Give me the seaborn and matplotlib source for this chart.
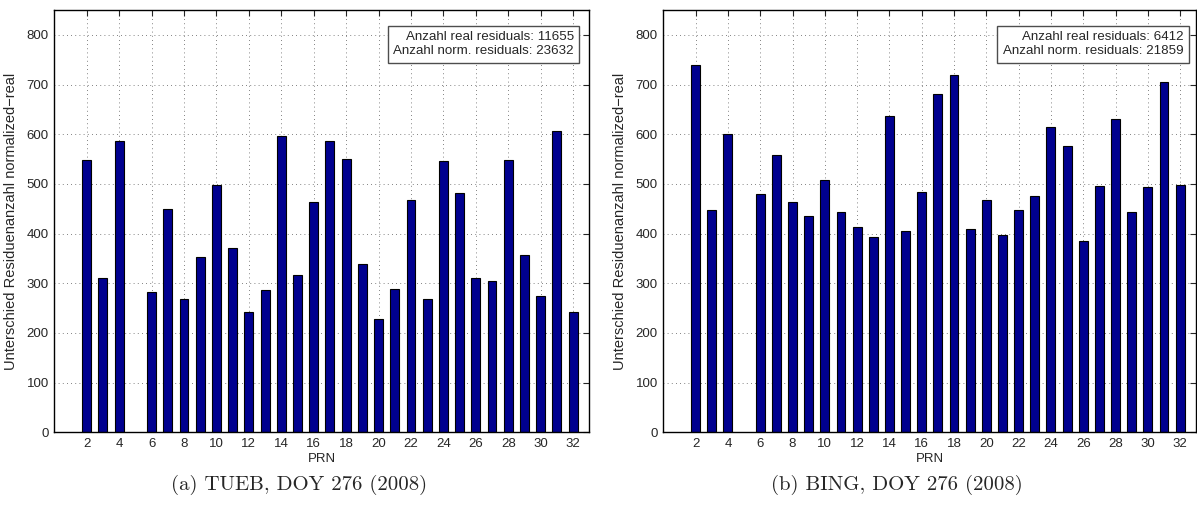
import numpy as np
import pandas as pd
import matplotlib
matplotlib.use("Agg")
import matplotlib.pyplot as plt
import seaborn as sns

# PRN 1 and 5 have no data
prn = [2, 3, 4, 6, 7, 8, 9, 10, 11, 12, 13, 14, 15, 16, 17, 18, 19, 20,
       21, 22, 23, 24, 25, 26, 27, 28, 29, 30, 31, 32]

tueb = [549, 310, 586, 283, 449, 269, 352, 497, 370, 243, 287, 596, 317, 464,
        587, 550, 339, 229, 288, 468, 269, 547, 482, 311, 305, 549, 357, 274,
        607, 242]

bing = [740, 448, 600, 480, 559, 463, 435, 508, 444, 413, 394, 636, 405, 483,
        681, 719, 410, 467, 397, 448, 475, 614, 576, 385, 495, 631, 444, 494,
        706, 498]

legend_tueb = "Anzahl real residuals: 11655\nAnzahl norm. residuals: 23632"
legend_bing = "Anzahl real residuals: 6412\nAnzahl norm. residuals: 21859"
captions = ["(a) TUEB, DOY 276 (2008)", "(b) BING, DOY 276 (2008)"]

sns.set_style("white")
plt.rcParams['font.family'] = ['Liberation Sans', 'DejaVu Sans']
plt.rcParams['font.size'] = 9

fig = plt.figure(figsize=(11.97, 5.11), dpi=100)
W, H = 1197, 511
ax_left = fig.add_axes([54.3 / W, (H - 432.3) / H, 535 / W, 422.3 / H])
ax_right = fig.add_axes([663.3 / W, (H - 432.3) / H, 533 / W, 422.3 / H])

panels = [(ax_left, tueb, legend_tueb, 0.8026),
          (ax_right, bing, legend_bing, 0.806)]

for ax, vals, legend_text, box_x in panels:
    df = pd.DataFrame({'PRN': prn, 'count': vals})
    sns.barplot(data=df, x='PRN', y='count', native_scale=True, width=0.55,
                color='#00008F', saturation=1, edgecolor='black',
                linewidth=0.8, errorbar=None, ax=ax)
    ax.set_xlim(0, 33)
    ax.set_ylim(0, 850)
    ax.set_xticks(range(2, 33, 2))
    ax.set_yticks(range(0, 801, 100))
    ax.grid(True, color='0.35', linestyle=(0, (1, 4)), linewidth=0.6)
    ax.set_axisbelow(True)
    ax.tick_params(direction='in', top=True, right=True, length=4,
                   width=0.8, labelsize=9.5, pad=4)
    for s in ax.spines.values():
        s.set_linewidth(1.0)
        s.set_color('black')
    ax.set_xlabel('PRN', fontsize=9.5, labelpad=2)
    ax.set_ylabel('Unterschied Residuenanzahl normalized\u2212real',
                  fontsize=10.5, labelpad=6)
    ax.text(box_x, 0.919, legend_text, transform=ax.transAxes,
            ha='center', va='center', multialignment='right', fontsize=9.6,
            linespacing=1.25,
            bbox=dict(boxstyle='square,pad=0.4', facecolor='white',
                      edgecolor='0.3', linewidth=1.0))

fig.text(299 / W, (H - 485) / H, captions[0], ha='center', va='center',
         fontsize=15, family=['cmr10', 'DejaVu Serif'])
fig.text(897 / W, (H - 485) / H, captions[1], ha='center', va='center',
         fontsize=15, family=['cmr10', 'DejaVu Serif'])

fig.savefig('out.png', dpi=100)
